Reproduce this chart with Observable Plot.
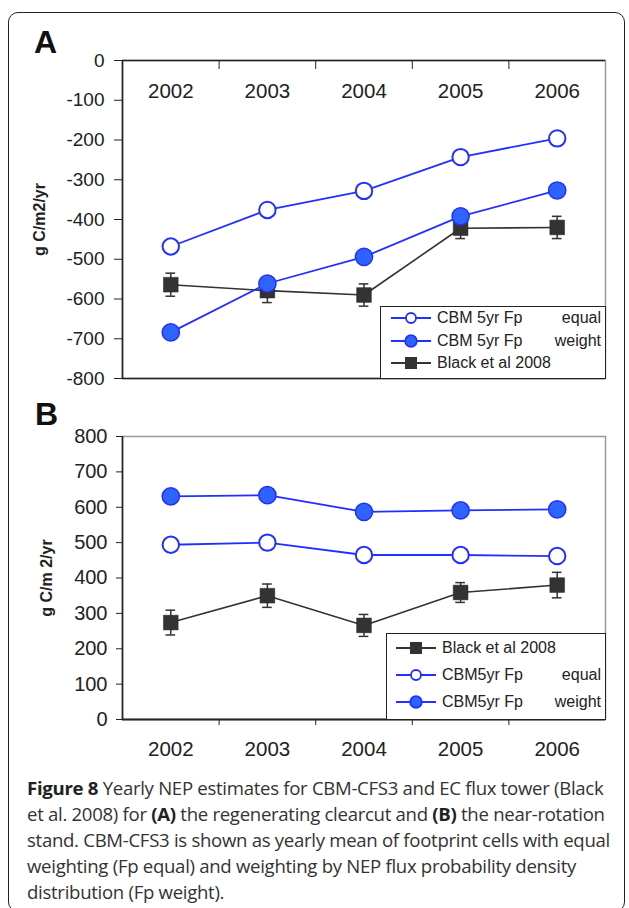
<!DOCTYPE html>
<html>
<head>
<meta charset="utf-8">
<script src="https://cdn.jsdelivr.net/npm/d3@7"></script>
<script src="https://cdn.jsdelivr.net/npm/@observablehq/plot@0.6"></script>
<style>
  html, body { margin:0; padding:0; background:#fff; }
  #wrap { position:relative; width:629px; height:908px; overflow:hidden; background:#fff; font-family:"Liberation Sans", Arial, sans-serif; }
  #border { position:absolute; left:8px; top:12px; width:617px; height:900px; border:1.6px solid #222; border-radius:10px; box-sizing:border-box; }
  .panel { position:absolute; left:0; }
  .letter { position:absolute; font-weight:bold; font-size:32px; color:#111; line-height:1; }
  .legend { position:absolute; border:1.6px solid #222; background:#fff; box-sizing:border-box; font-size:16px; color:#222; }
  .row { position:absolute; left:0; right:0; height:20px; display:flex; align-items:center; }
  .row svg { flex:none; }
  .row .t1 { margin-left:4px; white-space:nowrap; }
  .row .t2 { margin-left:auto; margin-right:4px; white-space:nowrap; }
  #caption { position:absolute; left:27px; top:775px; font-family:"Open Sans", sans-serif; font-size:18.6px; line-height:26px; color:#333; white-space:nowrap; letter-spacing:-0.3px; }
  #caption b { color:#222; }
  svg g[aria-label="y-axis label"] text { font-weight:bold; font-size:16px; }
</style>
</head>
<body>
<div id="wrap">
  <div id="border"></div>
  <div class="letter" style="left:34px;top:26px;">A</div>
  <div class="letter" style="left:35px;top:398px;">B</div>
  <div id="panelA" class="panel" style="top:0px;"></div>
  <div id="panelB" class="panel" style="top:392px;"></div>
  <div id="legendA" class="legend" style="left:380px;top:306px;width:226px;height:73px;"></div>
  <div id="legendB" class="legend" style="left:386px;top:633px;width:220px;height:87px;"></div>
  <div id="caption"><b>Figure 8</b> Yearly NEP estimates for CBM-CFS3 and EC flux tower (Black<br>et al. 2008) for <b>(A)</b> the regenerating clearcut and <b>(B)</b> the near-rotation<br>stand. CBM-CFS3 is shown as yearly mean of footprint cells with equal<br>weighting (Fp equal) and weighting by NEP flux probability density<br>distribution (Fp weight).</div>
</div>
<script>
// ---- data ----
const years = [2002, 2003, 2004, 2005, 2006];

// Panel A (regenerating clearcut)
const aEqual    = [-468, -376, -328, -243, -196];
const aWeight   = [-684, -561, -494, -392, -327];
const aBlack    = [-564, -579, -590, -422, -420];
const aBlackErr = [29, 30, 28, 26, 28];
const aTicks    = [0, -100, -200, -300, -400, -500, -600, -700, -800];

// Panel B (near-rotation stand)
const bWeight   = [631, 634, 587, 591, 594];
const bEqual    = [494, 500, 465, 465, 462];
const bBlack    = [274, 350, 266, 359, 380];
const bBlackErr = [35, 33, 31, 28, 36];
const bTicks    = [0, 100, 200, 300, 400, 500, 600, 700, 800];

const yLabelA = "g C/m2/yr";
const yLabelB = "g C/m 2/yr";
const legendA = [
  {key: "equal",  name: "CBM 5yr Fp", tail: "equal"},
  {key: "weight", name: "CBM 5yr Fp", tail: "weight"},
  {key: "black",  name: "Black et al 2008", tail: ""}
];
const legendB = [
  {key: "black",  name: "Black et al 2008", tail: ""},
  {key: "equal",  name: "CBM5yr Fp", tail: "equal"},
  {key: "weight", name: "CBM5yr Fp", tail: "weight"}
];

// ---- styles ----
const BLUE = "#2230ff";
const BLUE_FILL = "#2f63ff";
const DARK = "#333";

const toRows = (vals, err) => years.map((yr, i) => ({year: yr, v: vals[i], e: err ? err[i] : 0}));
const boundaries = [...years.map(y => y - 0.5), years[years.length - 1] + 0.5];
const xDomain = [boundaries[0], boundaries[boundaries.length - 1]];

function seriesMarks(eq, wt, bl) {
  return [
    Plot.ruleX(bl, {x: "year", y1: d => d.v - d.e, y2: d => d.v + d.e, stroke: DARK, strokeWidth: 1.5}),
    Plot.ruleY(bl, {y: d => d.v + d.e, x1: d => d.year - 0.05, x2: d => d.year + 0.05, stroke: DARK, strokeWidth: 1.5}),
    Plot.ruleY(bl, {y: d => d.v - d.e, x1: d => d.year - 0.05, x2: d => d.year + 0.05, stroke: DARK, strokeWidth: 1.5}),
    Plot.line(bl, {x: "year", y: "v", stroke: DARK, strokeWidth: 1.6}),
    Plot.dot(bl, {x: "year", y: "v", symbol: "square", r: 8.3, fill: DARK, stroke: "#222", strokeWidth: 0.5}),
    Plot.line(eq, {x: "year", y: "v", stroke: BLUE, strokeWidth: 1.8}),
    Plot.dot(eq, {x: "year", y: "v", r: 8.2, fill: "white", stroke: BLUE, strokeWidth: 2}),
    Plot.line(wt, {x: "year", y: "v", stroke: BLUE, strokeWidth: 1.8}),
    Plot.dot(wt, {x: "year", y: "v", r: 8.6, fill: BLUE_FILL, stroke: BLUE, strokeWidth: 1.5})
  ];
}

const common = {
  width: 629,
  marginLeft: 122,
  marginRight: 24,
  style: {fontFamily: "'Liberation Sans', Arial, sans-serif", fontSize: "19px", color: "#222", background: "transparent", overflow: "visible"},
  x: {domain: xDomain}
};

// Panel A
const plotA = Plot.plot({
  ...common,
  height: 392,
  marginTop: 60,
  marginBottom: 14,
  y: {domain: [-800, 0]},
  marks: [
    Plot.frame({stroke: "#9a9a9a", strokeWidth: 1.5}),
    Plot.ruleY([0, -800], {stroke: "#222", strokeWidth: 1.6}),
    Plot.ruleX([xDomain[0]], {stroke: "#222", strokeWidth: 1.6}),
    Plot.axisY({ticks: aTicks, tickSize: 8, tickPadding: 10, fontSize: 19, tickFormat: d => String(d),
      label: yLabelA, labelAnchor: "center", labelOffset: 89, labelArrow: false}),
    Plot.axisX({anchor: "top", ticks: boundaries.slice(1, -1), tickSize: -8, tickFormat: () => "", label: null}),
    Plot.axisX({anchor: "top", ticks: years, tickSize: 0, tickPadding: -37, fontSize: 20.5, tickFormat: d => String(d), label: null}),
    ...seriesMarks(toRows(aEqual), toRows(aWeight), toRows(aBlack, aBlackErr))
  ]
});
document.getElementById("panelA").appendChild(plotA);

// Panel B
const plotB = Plot.plot({
  ...common,
  height: 380,
  marginTop: 44,
  marginBottom: 53,
  y: {domain: [0, 800]},
  marks: [
    Plot.frame({stroke: "#9a9a9a", strokeWidth: 1.5}),
    Plot.ruleY([0], {stroke: "#222", strokeWidth: 1.8}),
    Plot.ruleX([xDomain[0]], {stroke: "#222", strokeWidth: 1.6}),
    Plot.axisY({ticks: bTicks, tickSize: 6, tickPadding: 9, fontSize: 20, tickFormat: d => String(d),
      label: yLabelB, labelAnchor: "center", labelOffset: 82, labelArrow: false}),
    Plot.axisX({anchor: "bottom", ticks: boundaries.slice(1, -1), tickSize: 6, tickFormat: () => "", label: null}),
    Plot.axisX({anchor: "bottom", ticks: years, tickSize: 0, tickPadding: 22, fontSize: 20.5, tickFormat: d => String(d), label: null}),
    ...seriesMarks(toRows(bEqual), toRows(bWeight), toRows(bBlack, bBlackErr))
  ]
});
document.getElementById("panelB").appendChild(plotB);

// Legends (HTML overlays)
function symbolSvg(key) {
  const ns = "http://www.w3.org/2000/svg";
  const s = document.createElementNS(ns, "svg");
  s.setAttribute("width", 44); s.setAttribute("height", 20);
  const color = key === "black" ? DARK : BLUE;
  const line = document.createElementNS(ns, "line");
  line.setAttribute("x1", 2); line.setAttribute("x2", 42); line.setAttribute("y1", 10); line.setAttribute("y2", 10);
  line.setAttribute("stroke", color); line.setAttribute("stroke-width", 1.8);
  s.appendChild(line);
  if (key === "black") {
    const r = document.createElementNS(ns, "rect");
    r.setAttribute("x", 16); r.setAttribute("y", 4); r.setAttribute("width", 12); r.setAttribute("height", 12);
    r.setAttribute("fill", DARK);
    s.appendChild(r);
  } else {
    const c = document.createElementNS(ns, "circle");
    c.setAttribute("cx", 22); c.setAttribute("cy", 10); c.setAttribute("r", key === "equal" ? 5 : 5.8);
    c.setAttribute("fill", key === "equal" ? "white" : BLUE_FILL);
    c.setAttribute("stroke", BLUE); c.setAttribute("stroke-width", 1.8);
    s.appendChild(c);
  }
  return s;
}
function buildLegend(el, items, firstTop, gap, padLeft) {
  items.forEach((it, i) => {
    const row = document.createElement("div");
    row.className = "row";
    row.style.top = (firstTop + i * gap) + "px";
    row.style.paddingLeft = padLeft + "px";
    row.appendChild(symbolSvg(it.key));
    const t1 = document.createElement("span"); t1.className = "t1"; t1.textContent = it.name;
    const t2 = document.createElement("span"); t2.className = "t2"; t2.textContent = it.tail;
    row.appendChild(t1); row.appendChild(t2);
    el.appendChild(row);
  });
}
buildLegend(document.getElementById("legendA"), legendA, 1, 22.5, 8);
buildLegend(document.getElementById("legendB"), legendB, 4, 27, 7);
</script>
</body>
</html>
